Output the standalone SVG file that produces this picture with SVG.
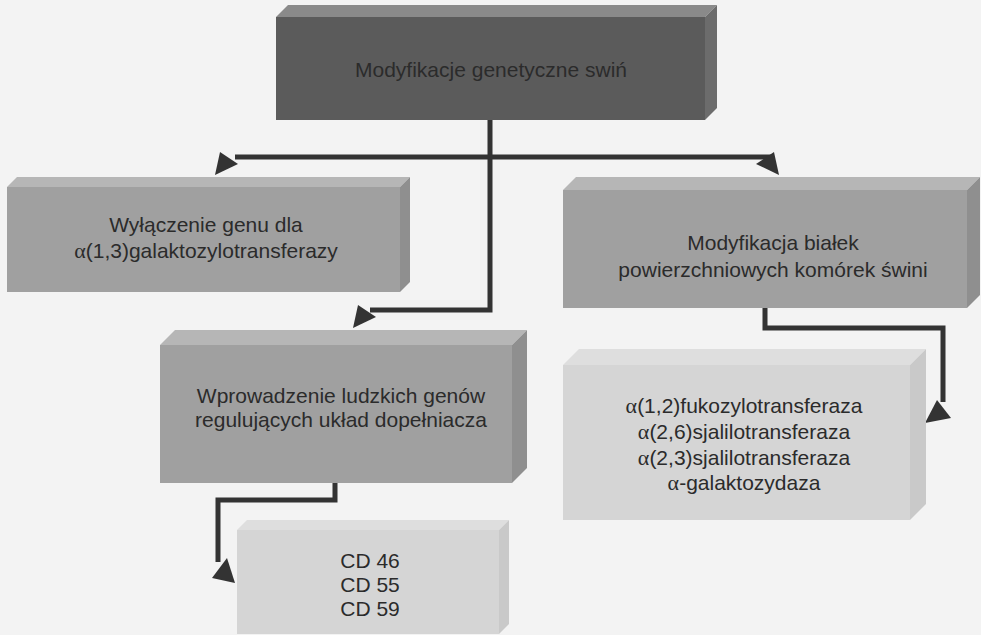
<svg xmlns="http://www.w3.org/2000/svg" width="981" height="635" viewBox="0 0 981 635">
<style>
text{font-family:"Liberation Sans",Arial,sans-serif;font-size:21px;fill:#2b2b2b;text-anchor:middle}
.a{font-family:"Liberation Serif","Times New Roman",serif;font-size:22px}
.dk .f{fill:#5b5b5b}.dk .t{fill:#8a8a8a}.dk .s{fill:#6c6c6c}
.md .f{fill:#a0a0a0}.md .t{fill:#b6b6b6}.md .s{fill:#8f8f8f}
.lt .f{fill:#d5d5d5}.lt .t{fill:#dedede}.lt .s{fill:#c9c9c9}
.ln{fill:none;stroke:#333;stroke-width:5;stroke-linejoin:miter}
.ah{fill:#333}
</style>
<rect width="981" height="635" fill="#f3f3f3"/>
<g id="connectors">
<path class="ln" d="M490,120 V310 H370"/>
<path class="ln" d="M235,157 H772"/>
<path class="ln" d="M765,308 V328 H943 V402"/>
<path class="ln" d="M335,483 V500 H218 V562"/>
<polygon class="ah" points="215,175 220,152 238,164"/>
<polygon class="ah" points="779,175 774,152 756,164"/>
<polygon class="ah" points="353,328 358,305 376,317"/>
<polygon class="ah" points="925,423 937,400 951,418"/>
<polygon class="ah" points="235,583 212,578 227,558"/>
</g>
<g id="n-top" class="dk">
<polygon class="t" points="276,17 288,5 717,5 705,17"/>
<polygon class="s" points="705,17 717,5 717,108 705,120"/>
<rect class="f" x="276" y="17" width="429" height="103"/>
<text x="491" y="77">Modyfikacje genetyczne swiń</text>
</g>
<g id="n-left" class="md">
<polygon class="t" points="7,187 17,177 410,177 400,187"/>
<polygon class="s" points="400,187 410,177 410,282 400,292"/>
<rect class="f" x="7" y="187" width="393" height="105"/>
<text x="206" y="232">Wyłączenie genu dla</text>
<text x="206" y="258"><tspan class="a">α</tspan>(1,3)galaktozylotransferazy</text>
</g>
<g id="n-right" class="md">
<polygon class="t" points="563,190 576,177 980,177 967,190"/>
<polygon class="s" points="967,190 980,177 980,295 967,308"/>
<rect class="f" x="563" y="190" width="404" height="118"/>
<text x="773" y="250">Modyfikacja białek</text>
<text x="773" y="277">powierzchniowych komórek świni</text>
</g>
<g id="n-mid" class="md">
<polygon class="t" points="160,345 175,330 527,330 512,345"/>
<polygon class="s" points="512,345 527,330 527,468 512,483"/>
<rect class="f" x="160" y="345" width="352" height="138"/>
<text x="341" y="403">Wprowadzenie ludzkich genów</text>
<text x="341" y="427">regulujących układ dopełniacza</text>
</g>
<g id="n-alpha" class="lt">
<polygon class="t" points="563,365 579,349 926,349 910,365"/>
<polygon class="s" points="910,365 926,349 926,504 910,520"/>
<rect class="f" x="563" y="365" width="347" height="155"/>
<text x="744" y="413"><tspan class="a">α</tspan>(1,2)fukozylotransferaza</text>
<text x="744" y="439"><tspan class="a">α</tspan>(2,6)sjalilotransferaza</text>
<text x="744" y="465"><tspan class="a">α</tspan>(2,3)sjalilotransferaza</text>
<text x="744" y="490"><tspan class="a">α</tspan>-galaktozydaza</text>
</g>
<g id="n-cd" class="lt">
<polygon class="t" points="237,530 247,520 509,520 499,530"/>
<polygon class="s" points="499,530 509,520 509,624 499,634"/>
<rect class="f" x="237" y="530" width="262" height="104"/>
<text x="370" y="568">CD 46</text>
<text x="370" y="592">CD 55</text>
<text x="370" y="616">CD 59</text>
</g>
</svg>
